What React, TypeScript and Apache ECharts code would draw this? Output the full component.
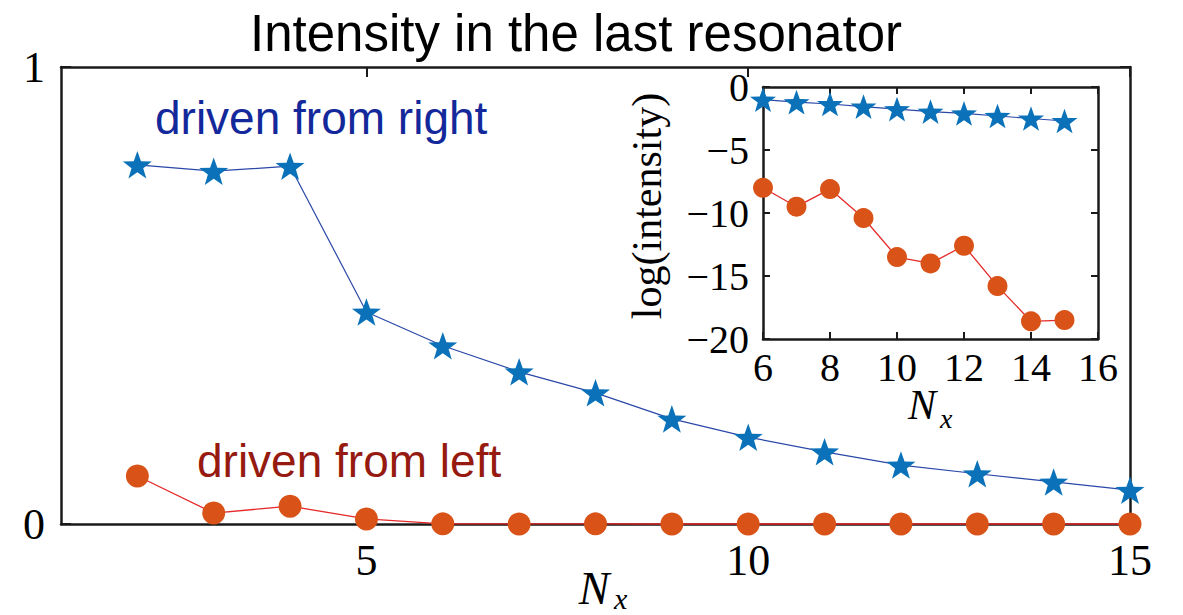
import React, { useEffect, useRef } from "react";
import * as echarts from "echarts";

const mainN = [2, 3, 4, 5, 6, 7, 8, 9, 10, 11, 12, 13, 14, 15];
const blueMain = [0.786, 0.772, 0.783, 0.464, 0.39, 0.333, 0.287, 0.23, 0.19, 0.158, 0.129, 0.11, 0.092, 0.074];
const redMain = [0.105, 0.024, 0.039, 0.011, 0.0003, 0.0001, 0.0003, 0, 0, 0, 0, 0, 0, 0];
const mainXTicks = [5, 10, 15];
const mainYTicks = [0, 1];

const insetN = [6, 7, 8, 9, 10, 11, 12, 13, 14, 15];
const blueLog = [-1.0, -1.2, -1.35, -1.55, -1.75, -1.95, -2.1, -2.3, -2.5, -2.7];
const redLog = [-8.0, -9.5, -8.1, -10.4, -13.5, -14.0, -12.6, -15.8, -18.6, -18.5];

const STAR = "path://M50,0 L62.5,35.5 L100,36.3 L70.2,59 L80.9,95 L50,73.6 L19.1,95 L29.8,59 L0,36.3 L37.5,35.5 Z";
const SERIF = "'Liberation Serif', 'DejaVu Serif', serif";
const SANS = "'Liberation Sans', Arial, sans-serif";
const AX = "#1a1a1a";
const fmtMinus = (v: number) => (v < 0 ? "\u2212" + Math.abs(v) : String(v));

export default function App() {
  const ref = useRef<HTMLDivElement>(null);
  useEffect(() => {
    if (!ref.current) return;
    const chart = echarts.init(ref.current, null, { renderer: "svg" });
    const axisLine = { show: true, onZero: false, lineStyle: { color: AX, width: 2.5 } };
    const tickStyle = { color: AX, width: 2 };
    const option: any = {
      animation: false,
      backgroundColor: "#ffffff",
      grid: [
        { left: 61, top: 67, right: 53, bottom: 91 },
        { left: 763, top: 87, width: 335, height: 252 },
      ],
      xAxis: [
        {
          gridIndex: 0, type: "value", min: 1, max: 15, position: "bottom",
          axisLine, splitLine: { show: false },
          axisTick: { show: true, inside: true, length: 10, customValues: mainXTicks, lineStyle: tickStyle },
          axisLabel: { show: true, customValues: mainXTicks, margin: 14, color: "#000", fontFamily: SERIF, fontSize: 44 },
        },
        {
          gridIndex: 0, type: "value", min: 1, max: 15, position: "top",
          axisLine, splitLine: { show: false },
          axisTick: { show: true, inside: true, length: 10, customValues: mainXTicks, lineStyle: tickStyle },
          axisLabel: { show: false },
        },
        {
          gridIndex: 1, type: "value", min: 6, max: 16, interval: 2, position: "bottom",
          axisLine, splitLine: { show: false },
          axisTick: { show: true, inside: true, length: 7, lineStyle: tickStyle },
          axisLabel: { show: true, margin: 8, color: "#000", fontFamily: SERIF, fontSize: 40 },
        },
        {
          gridIndex: 1, type: "value", min: 6, max: 16, interval: 2, position: "top",
          axisLine, splitLine: { show: false },
          axisTick: { show: true, inside: true, length: 7, lineStyle: tickStyle },
          axisLabel: { show: false },
        },
      ],
      yAxis: [
        {
          gridIndex: 0, type: "value", min: 0, max: 1, interval: 1, position: "left",
          axisLine, splitLine: { show: false },
          axisTick: { show: true, inside: true, length: 10, customValues: mainYTicks, lineStyle: tickStyle },
          axisLabel: { show: true, customValues: mainYTicks, margin: 16, color: "#000", fontFamily: SERIF, fontSize: 44 },
        },
        {
          gridIndex: 0, type: "value", min: 0, max: 1, interval: 1, position: "right",
          axisLine, splitLine: { show: false },
          axisTick: { show: true, inside: true, length: 10, customValues: mainYTicks, lineStyle: tickStyle },
          axisLabel: { show: false },
        },
        {
          gridIndex: 1, type: "value", min: -20, max: 0, interval: 5, position: "left",
          axisLine, splitLine: { show: false },
          axisTick: { show: true, inside: true, length: 7, lineStyle: tickStyle },
          axisLabel: { show: true, margin: 14, color: "#000", fontFamily: SERIF, fontSize: 40, formatter: fmtMinus },
        },
        {
          gridIndex: 1, type: "value", min: -20, max: 0, interval: 5, position: "right",
          axisLine, splitLine: { show: false },
          axisTick: { show: true, inside: true, length: 7, lineStyle: tickStyle },
          axisLabel: { show: false },
        },
      ],
      series: [
        {
          type: "line", xAxisIndex: 0, yAxisIndex: 0, clip: false, z: 3,
          data: mainN.map((n, i) => [n, redMain[i]]),
          symbol: "circle", symbolSize: 23,
          itemStyle: { color: "#D95319" },
          lineStyle: { color: "#e52828", width: 1.3 },
        },
        {
          type: "line", xAxisIndex: 0, yAxisIndex: 0, clip: false, z: 4,
          data: mainN.map((n, i) => [n, blueMain[i]]),
          symbol: STAR, symbolSize: 29, symbolKeepAspect: true,
          itemStyle: { color: "#0b72b9" },
          lineStyle: { color: "#2a48a8", width: 1.2 },
        },
        {
          type: "line", xAxisIndex: 2, yAxisIndex: 2, clip: false, z: 3,
          data: insetN.map((n, i) => [n, redLog[i]]),
          symbol: "circle", symbolSize: 20,
          itemStyle: { color: "#D95319" },
          lineStyle: { color: "#e52828", width: 1.3 },
        },
        {
          type: "line", xAxisIndex: 2, yAxisIndex: 2, clip: false, z: 4,
          data: insetN.map((n, i) => [n, blueLog[i]]),
          symbol: STAR, symbolSize: 26, symbolKeepAspect: true,
          itemStyle: { color: "#0b72b9" },
          lineStyle: { color: "#2a48a8", width: 1.2 },
        },
      ],
      graphic: [
        {
          type: "text", x: 576, y: 33,
          style: { text: "Intensity in the last resonator", font: `51px ${SANS}`, fill: "#000", align: "center", verticalAlign: "middle" },
        },
        {
          type: "text", x: 155, y: 118,
          style: { text: "driven from right", font: `46px ${SANS}`, fill: "#13289a", align: "left", verticalAlign: "middle" },
        },
        {
          type: "text", x: 197, y: 461,
          style: { text: "driven from left", font: `46px ${SANS}`, fill: "#961a10", align: "left", verticalAlign: "middle" },
        },
        {
          type: "text", x: 594, y: 588,
          style: { text: "N", font: `italic 46px ${SERIF}`, fill: "#000", align: "center", verticalAlign: "middle" },
        },
        {
          type: "text", x: 614, y: 598,
          style: { text: "x", font: `italic 30px ${SERIF}`, fill: "#000", align: "left", verticalAlign: "middle" },
        },
        {
          type: "text", x: 922, y: 405,
          style: { text: "N", font: `italic 42px ${SERIF}`, fill: "#000", align: "center", verticalAlign: "middle" },
        },
        {
          type: "text", x: 940, y: 418,
          style: { text: "x", font: `italic 28px ${SERIF}`, fill: "#000", align: "left", verticalAlign: "middle" },
        },
        {
          type: "text", x: 647, y: 206, rotation: Math.PI / 2,
          style: { text: "log(intensity)", font: `42px ${SERIF}`, fill: "#000", align: "center", verticalAlign: "middle" },
        },
      ],
    };
    chart.setOption(option);
    return () => chart.dispose();
  }, []);
  return (
    <div
      ref={ref}
      style={{ position: "fixed", left: 0, top: 0, width: 1183, height: 615, background: "#fff" }}
    />
  );
}
